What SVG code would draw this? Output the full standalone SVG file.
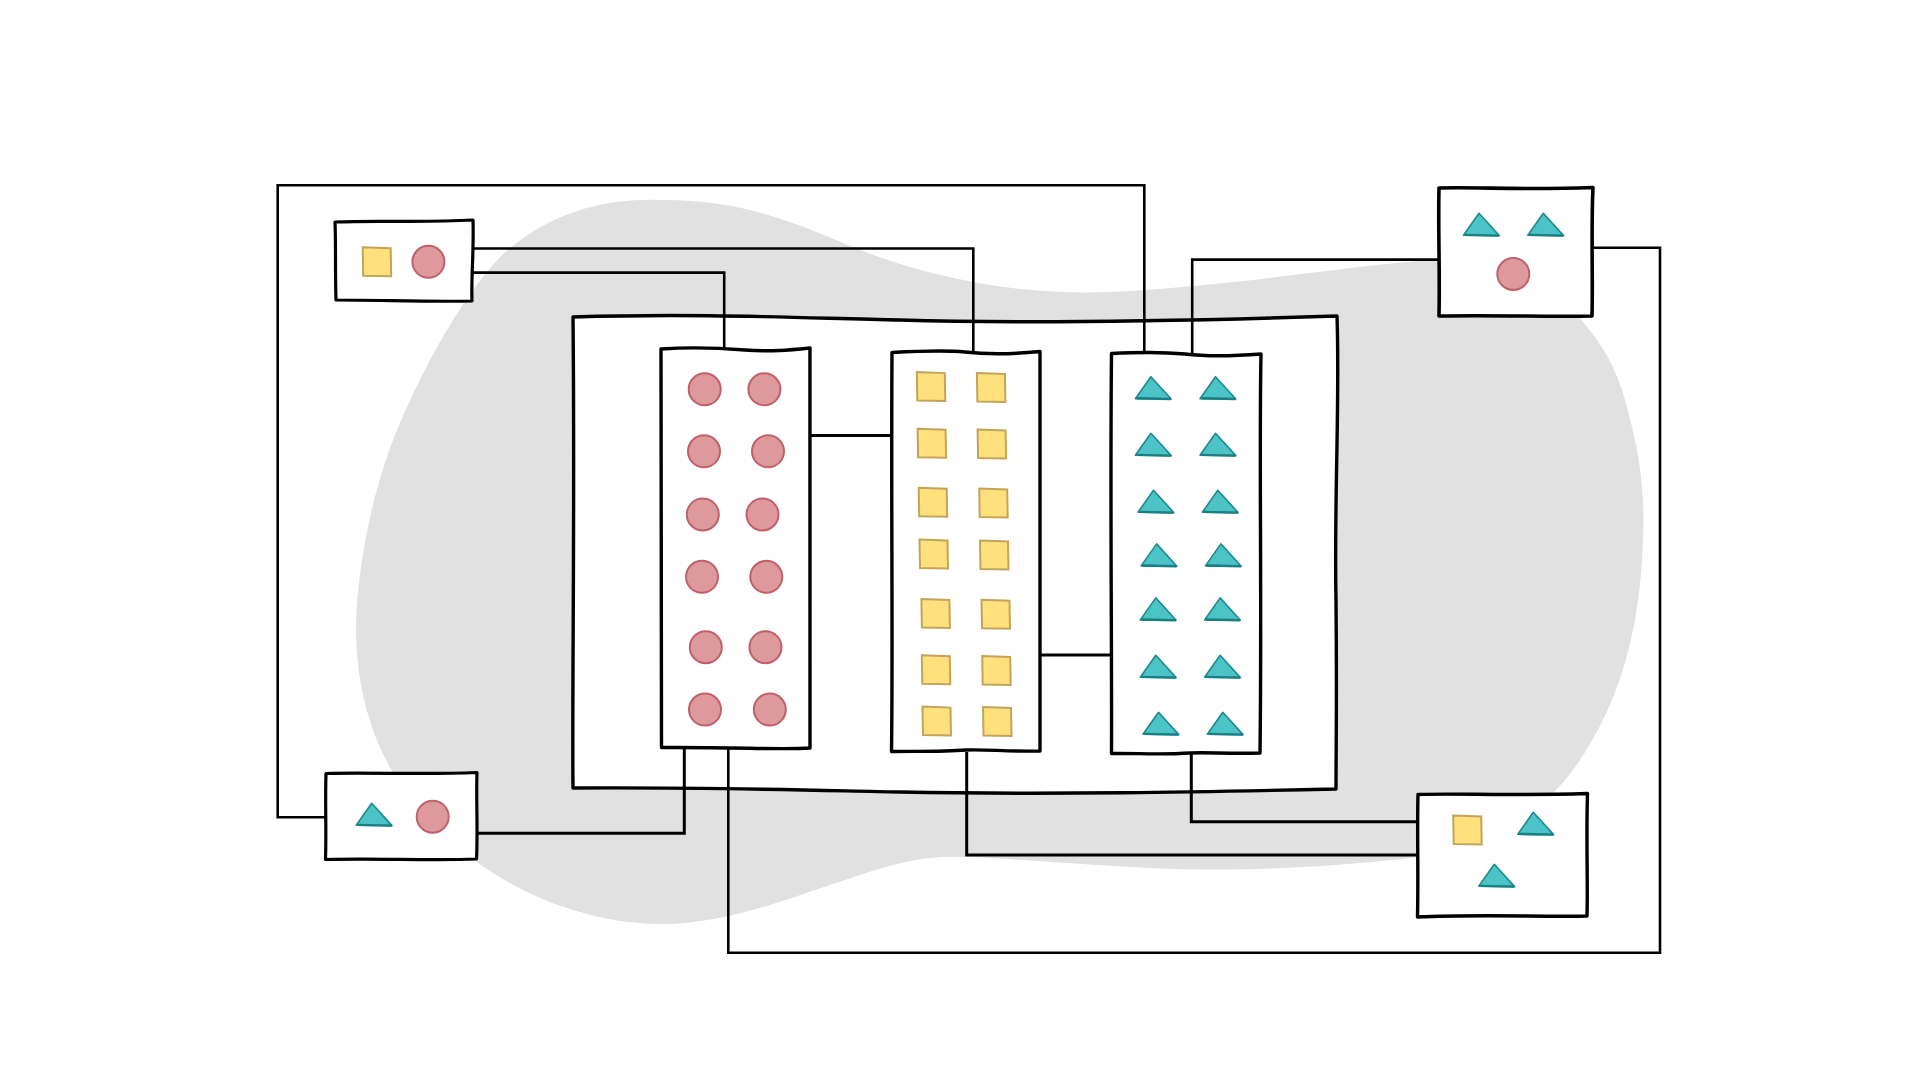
<svg xmlns="http://www.w3.org/2000/svg" xmlns:xlink="http://www.w3.org/1999/xlink" width="1921" height="1081" viewBox="0 0 1921 1081">
<style>
.box{fill:#ffffff;stroke:#000000;stroke-width:3.2;stroke-linejoin:round}
.conn{fill:none;stroke:#000000;stroke-width:2.6;stroke-linejoin:miter}
.cir{fill:#de999c;stroke:#c0606b;stroke-width:2}
.sq{fill:#fee07c;stroke:#c2a55a;stroke-width:2}
.tri{fill:#4cc4c7;stroke:#1d8a8d;stroke-width:1.6;stroke-linejoin:round}
.trib{fill:none;stroke:#187f82;stroke-width:2.4}
</style>
<defs>
<g id="C"><circle cx="0" cy="0" r="16" class="cir"/></g>
<g id="S"><path d="M-14,-14.5 L14,-13.5 L14.5,14.5 L-13.5,14 Z" class="sq"/></g>
<g id="T"><path d="M0,0 L20.3,22.3 L-15.5,22 Z" class="tri"/><path d="M-14,21.6 L20,22.3" class="trib"/></g>
</defs>
<rect x="0" y="0" width="1921" height="1081" fill="#ffffff"/>
<path id="blob" fill="#e1e1e1" d="M660,200 C745,199 800,225 860,250 C950,285 1040,295 1110,292 C1250,285 1370,262 1440,260 C1530,256 1600,320 1622,390 C1640,450 1645,490 1643,540 C1640,630 1620,700 1580,760 C1540,820 1480,850 1418,857 C1330,868 1230,872 1150,868 C1060,864 980,855 940,857 C860,862 760,925 660,924 C560,923 470,870 420,810 C380,765 355,700 356,623 C358,560 375,480 400,423 C425,365 460,300 500,257 C545,215 600,198 660,200 Z"/>
<path id="container" class="box" style="stroke-width:3.4" d="M573,317 C700,313 800,318 900,320 C1000,323 1150,322 1337,316 C1340,400 1334,500 1336,600 C1337,700 1336,750 1336,789 C1200,792 1050,795 900,792 C800,790 700,787 573,788 C572,700 575,500 573,317 Z"/>
<g id="connectors">
<path class="conn" d="M326,817.3 L277.7,817.3 L277.7,185.3 L1144.3,185.3 L1144.3,353"/>
<path class="conn" d="M473,248.5 L973.3,248.5 L973.3,353"/>
<path class="conn" d="M473,272.6 L724.2,272.6 L724.2,348"/>
<path class="conn" d="M1439,259.6 L1192.2,259.6 L1192.2,354"/>
<path class="conn" d="M1593,247.7 L1660,247.7 L1660,952.7 L728.3,952.7 L728.3,748"/>
<path class="conn" style="stroke-width:3" d="M810,435.5 L892,435.5"/>
<path class="conn" style="stroke-width:3" d="M1040,655 L1111,655"/>
<path class="conn" style="stroke-width:3" d="M472,833.3 L684.3,833.3 L684.3,748"/>
<path class="conn" style="stroke-width:3" d="M966.7,752 L966.7,855 L1418,855"/>
<path class="conn" style="stroke-width:3" d="M1191.3,754 L1191.3,821.7 L1418,821.7"/>
</g>
<g id="node-topleft">
<path class="box" d="M335,222 C380,220 420,223 473,220 C474,250 471,280 472,301 C430,302 380,300 336,300 C335,270 336,245 335,222 Z"/>
<use xlink:href="#S" x="376.7" y="261.8"/>
<use xlink:href="#C" x="428.4" y="261.8"/>
</g>
<g id="node-topright">
<path class="box" style="stroke-width:3.6" d="M1439,188 C1480,187 1520,190 1593,187.5 C1591,230 1593,280 1592,316 C1550,317 1500,315 1439,316 C1440,270 1438,230 1439,188 Z"/>
<use xlink:href="#T" x="1479" y="213.3"/>
<use xlink:href="#T" x="1543.3" y="213.3"/>
<use xlink:href="#C" x="1513.3" y="274"/>
</g>
<g id="node-bottomleft">
<path class="box" d="M326,773.5 C370,772 420,775 477,772.5 C476,800 478,830 476.5,859 C430,861 380,858 325.5,859.5 C326.5,830 325,800 326,773.5 Z"/>
<use xlink:href="#T" x="371.7" y="803.3"/>
<use xlink:href="#C" x="432.7" y="816.7"/>
</g>
<g id="node-bottomright">
<path class="box" style="stroke-width:3.4" d="M1418,794.5 C1460,793 1500,796 1587.5,793.5 C1586,840 1588,880 1587,916 C1540,917 1480,914 1417.5,917 C1418.5,870 1417,830 1418,794.5 Z"/>
<use xlink:href="#S" x="1467.2" y="830"/>
<use xlink:href="#T" x="1533.3" y="812.3"/>
<use xlink:href="#T" x="1494.3" y="864.3"/>
</g>
<g id="column-circles">
<path class="box" style="stroke-width:3.4" d="M661,349 C690,347 720,348 745,350 C770,352 790,350 810,348 C809,450 811,550 810,748 C780,750 740,747 661.5,747.5 C662,650 660,500 661,349 Z"/>
<use xlink:href="#C" x="704.7" y="389.3"/><use xlink:href="#C" x="764.4" y="389.3"/>
<use xlink:href="#C" x="704" y="451.3"/><use xlink:href="#C" x="768" y="451.3"/>
<use xlink:href="#C" x="702.8" y="514.4"/><use xlink:href="#C" x="762.5" y="514.4"/>
<use xlink:href="#C" x="702" y="576.8"/><use xlink:href="#C" x="766.3" y="576.8"/>
<use xlink:href="#C" x="705.8" y="647.2"/><use xlink:href="#C" x="765.5" y="647.2"/>
<use xlink:href="#C" x="705" y="709.6"/><use xlink:href="#C" x="769.8" y="709.6"/>
</g>
<g id="column-squares">
<path class="box" style="stroke-width:3.4" d="M892,352.5 C920,351 945,350 965,352 C990,355 1015,354 1040,351.5 C1039,450 1041,600 1040,751 C1010,752 985,749 966,750 C940,752 915,751 891.5,751.5 C893,650 891,500 892,352.5 Z"/>
<use xlink:href="#S" x="930.8" y="386.6"/><use xlink:href="#S" x="990.9" y="387.4"/>
<use xlink:href="#S" x="931.6" y="443.2"/><use xlink:href="#S" x="991.6" y="444"/>
<use xlink:href="#S" x="932.7" y="502.2"/><use xlink:href="#S" x="993.2" y="503"/>
<use xlink:href="#S" x="933.5" y="553.9"/><use xlink:href="#S" x="994" y="555"/>
<use xlink:href="#S" x="935.4" y="613.5"/><use xlink:href="#S" x="995.5" y="614.3"/>
<use xlink:href="#S" x="935.8" y="669.8"/><use xlink:href="#S" x="996.2" y="670.5"/>
<use xlink:href="#S" x="936.5" y="721.1"/><use xlink:href="#S" x="997" y="721.5"/>
</g>
<g id="column-triangles">
<path class="box" style="stroke-width:3.4" d="M1111.5,353.5 C1140,352 1165,352 1185,354 C1210,357 1235,356 1261,354 C1259,450 1262,600 1260,753 C1230,754 1205,752 1190,753 C1160,755 1135,753 1111.5,753.5 C1112,650 1110,500 1111.5,353.5 Z"/>
<use xlink:href="#T" x="1150.9" y="376.7"/><use xlink:href="#T" x="1215.5" y="376.7"/>
<use xlink:href="#T" x="1150.9" y="433.3"/><use xlink:href="#T" x="1215.5" y="433.3"/>
<use xlink:href="#T" x="1153.5" y="490.3"/><use xlink:href="#T" x="1217.8" y="490.3"/>
<use xlink:href="#T" x="1156.6" y="543.9"/><use xlink:href="#T" x="1220.9" y="543.9"/>
<use xlink:href="#T" x="1155.8" y="597.9"/><use xlink:href="#T" x="1220.1" y="597.9"/>
<use xlink:href="#T" x="1155.8" y="655.3"/><use xlink:href="#T" x="1220.1" y="655.3"/>
<use xlink:href="#T" x="1158.5" y="712.3"/><use xlink:href="#T" x="1222.8" y="712.3"/>
</g>
</svg>
